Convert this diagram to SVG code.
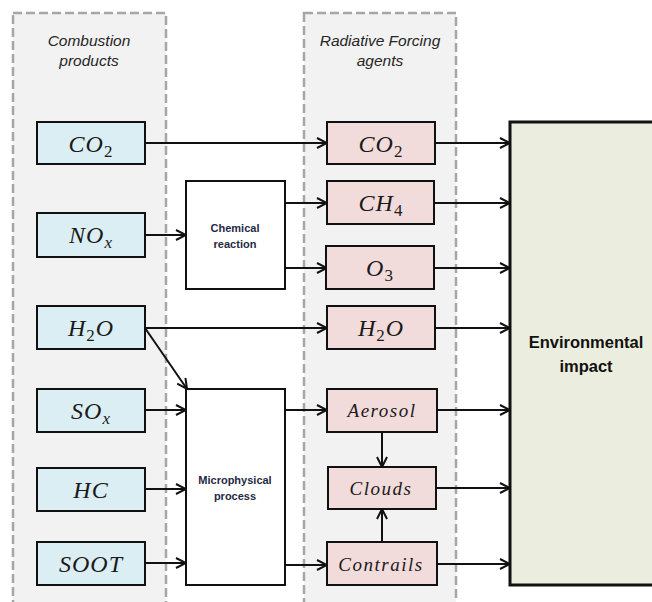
<svg xmlns="http://www.w3.org/2000/svg" width="652" height="602" viewBox="0 0 652 602">
<style>
.panel{fill:#F2F2F2;stroke:#A6A6A6;stroke-width:2.5;stroke-dasharray:9,4}
.hdr{font-family:"Liberation Sans",Arial,sans-serif;font-style:italic;font-size:15.5px;fill:#262626;text-anchor:middle}
.blue{fill:#DBEEF4;stroke:#111;stroke-width:2}
.pink{fill:#F2DCDB;stroke:#111;stroke-width:2}
.proc{fill:#FFFFFF;stroke:#111;stroke-width:2}
.env{fill:#EBEEDE;stroke:#111;stroke-width:3}
.math{font-family:"Liberation Serif","Times New Roman",serif;font-style:italic;font-size:24px;letter-spacing:1px;fill:#1A1A1A;text-anchor:middle}
.word{font-family:"Liberation Serif","Times New Roman",serif;font-style:italic;font-size:19px;letter-spacing:1.5px;fill:#1A1A1A;text-anchor:middle}
.sub{font-size:17px;font-style:normal}
.subx{font-size:17px}
.small{font-family:"Liberation Sans",Arial,sans-serif;font-weight:bold;font-size:11px;fill:#1F2A44;text-anchor:middle}
.big{font-family:"Liberation Sans",Arial,sans-serif;font-weight:bold;font-size:16.5px;fill:#111;text-anchor:middle}
.c{fill:none;stroke:#111;stroke-width:2}
</style>
<defs>
<marker id="ah" viewBox="0 0 12 12" refX="11" refY="6" markerWidth="12" markerHeight="12" markerUnits="userSpaceOnUse" orient="auto">
<path d="M1,1 L11,6 L1,11" fill="none" stroke="#111" stroke-width="2"/>
</marker>
</defs>
<rect width="652" height="602" fill="#FFFFFF"/>
<g id="panel-combustion">
<rect class="panel" x="13" y="13" width="153" height="600"/>
<text class="hdr" x="89" y="46">Combustion</text>
<text class="hdr" x="89" y="66">products</text>
</g>
<g id="panel-radiative">
<rect class="panel" x="304" y="13" width="152" height="600"/>
<text class="hdr" x="380" y="46">Radiative Forcing</text>
<text class="hdr" x="380" y="66">agents</text>
</g>
<g id="connectors">
<line class="c" x1="145" y1="143" x2="327" y2="143" marker-end="url(#ah)"/>
<line class="c" x1="145" y1="235" x2="186" y2="235" marker-end="url(#ah)"/>
<line class="c" x1="285" y1="203" x2="327" y2="203" marker-end="url(#ah)"/>
<line class="c" x1="285" y1="268" x2="327" y2="268" marker-end="url(#ah)"/>
<line class="c" x1="145" y1="328" x2="327" y2="328" marker-end="url(#ah)"/>
<line class="c" x1="145" y1="328" x2="187" y2="389" marker-end="url(#ah)"/>
<line class="c" x1="145" y1="410" x2="186" y2="410" marker-end="url(#ah)"/>
<line class="c" x1="145" y1="489" x2="186" y2="489" marker-end="url(#ah)"/>
<line class="c" x1="145" y1="563" x2="186" y2="563" marker-end="url(#ah)"/>
<line class="c" x1="285" y1="410" x2="327" y2="410" marker-end="url(#ah)"/>
<line class="c" x1="285" y1="565" x2="327" y2="565" marker-end="url(#ah)"/>
<line class="c" x1="382" y1="432" x2="382" y2="467" marker-end="url(#ah)"/>
<line class="c" x1="382" y1="542" x2="382" y2="509" marker-end="url(#ah)"/>
<line class="c" x1="435" y1="143" x2="510" y2="143" marker-end="url(#ah)"/>
<line class="c" x1="435" y1="203" x2="510" y2="203" marker-end="url(#ah)"/>
<line class="c" x1="435" y1="268" x2="510" y2="268" marker-end="url(#ah)"/>
<line class="c" x1="435" y1="328" x2="510" y2="328" marker-end="url(#ah)"/>
<line class="c" x1="437" y1="410" x2="510" y2="410" marker-end="url(#ah)"/>
<line class="c" x1="436" y1="488" x2="510" y2="488" marker-end="url(#ah)"/>
<line class="c" x1="436" y1="564" x2="510" y2="564" marker-end="url(#ah)"/>
</g>
<g id="src-co2"><rect class="blue" x="37" y="122" width="108" height="42"/><text class="math" x="91" y="152">CO<tspan class="sub" dy="5">2</tspan></text></g>
<g id="src-nox"><rect class="blue" x="37" y="213" width="108" height="44"/><text class="math" x="91" y="243">NO<tspan class="subx" dy="5">x</tspan></text></g>
<g id="src-h2o"><rect class="blue" x="37" y="306" width="108" height="43"/><text class="math" x="91" y="336">H<tspan class="sub" dy="5">2</tspan><tspan dy="-5">O</tspan></text></g>
<g id="src-sox"><rect class="blue" x="37" y="389" width="108" height="43"/><text class="math" x="91" y="419">SO<tspan class="subx" dy="5">x</tspan></text></g>
<g id="src-hc"><rect class="blue" x="37" y="468" width="108" height="43"/><text class="math" x="91" y="498">HC</text></g>
<g id="src-soot"><rect class="blue" x="37" y="542" width="108" height="43"/><text class="math" x="91" y="572">SOOT</text></g>
<g id="chemical-reaction"><rect class="proc" x="186" y="181" width="99" height="108"/><text class="small" x="235" y="232">Chemical</text><text class="small" x="235" y="248">reaction</text></g>
<g id="microphysical-process"><rect class="proc" x="186" y="389" width="99" height="196"/><text class="small" x="235" y="484">Microphysical</text><text class="small" x="235" y="500">process</text></g>
<g id="rf-co2"><rect class="pink" x="327" y="122" width="108" height="42"/><text class="math" x="381" y="152">CO<tspan class="sub" dy="5">2</tspan></text></g>
<g id="rf-ch4"><rect class="pink" x="327" y="181" width="107" height="43"/><text class="math" x="381" y="211">CH<tspan class="sub" dy="5">4</tspan></text></g>
<g id="rf-o3"><rect class="pink" x="326" y="246" width="108" height="43"/><text class="math" x="380" y="276">O<tspan class="sub" dy="5">3</tspan></text></g>
<g id="rf-h2o"><rect class="pink" x="327" y="306" width="108" height="43"/><text class="math" x="381" y="336">H<tspan class="sub" dy="5">2</tspan><tspan dy="-5">O</tspan></text></g>
<g id="rf-aerosol"><rect class="pink" x="327" y="389" width="110" height="43"/><text class="word" x="382" y="417">Aerosol</text></g>
<g id="rf-clouds"><rect class="pink" x="328" y="467" width="108" height="42"/><text class="word" x="381" y="495">Clouds</text></g>
<g id="rf-contrails"><rect class="pink" x="327" y="542" width="110" height="43"/><text class="word" x="381" y="571">Contrails</text></g>
<g id="environmental-impact"><rect class="env" x="510" y="122" width="150" height="463"/><text class="big" x="586" y="348">Environmental</text><text class="big" x="586" y="372">impact</text></g>
</svg>
